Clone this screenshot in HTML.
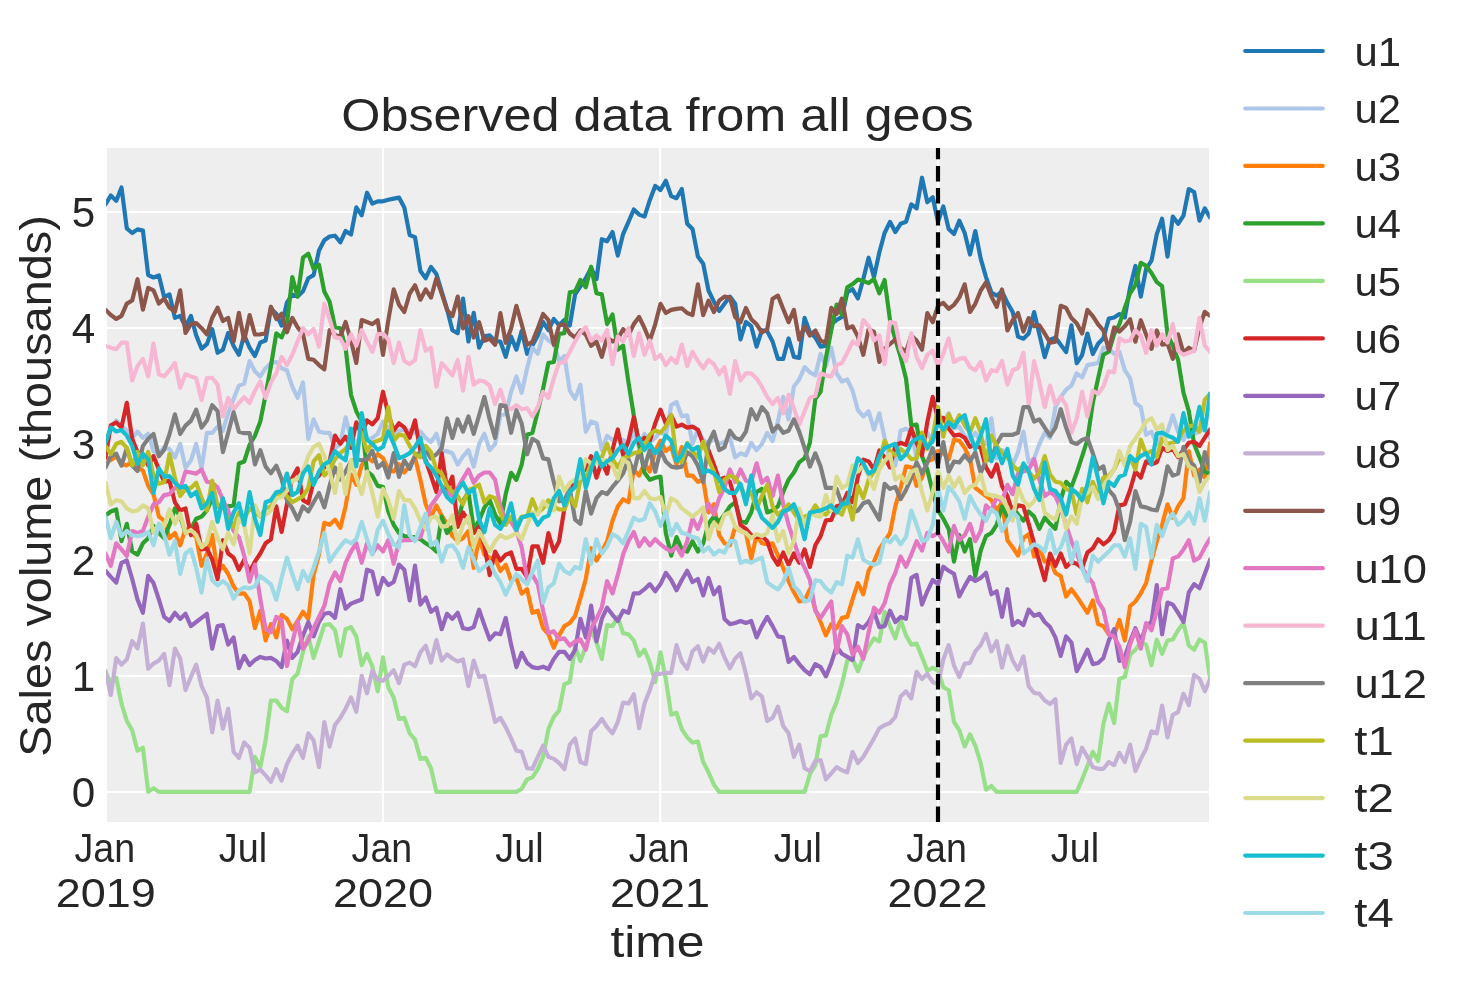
<!DOCTYPE html>
<html lang="en"><head><meta charset="utf-8"><title>Observed data from all geos</title>
<style>html,body{margin:0;padding:0;background:#fff;}body{width:1463px;height:985px;overflow:hidden;}svg{display:block;will-change:transform;}text{font-family:"Liberation Sans",sans-serif;fill:#262626;}.s{fill:none;stroke-width:4.17;stroke-linejoin:round;stroke-linecap:round;}.g{stroke:#fff;stroke-width:2.2;}</style></head><body>
<svg width="1463" height="985" viewBox="0 0 1463 985">
<rect x="0" y="0" width="1463" height="985" fill="#ffffff"/>
<rect x="107" y="148" width="1102" height="674" fill="#eeeeee"/>
<g class="g">
<line x1="107" x2="1209" y1="792.0" y2="792.0"/>
<line x1="107" x2="1209" y1="676.0" y2="676.0"/>
<line x1="107" x2="1209" y1="560.0" y2="560.0"/>
<line x1="107" x2="1209" y1="444.0" y2="444.0"/>
<line x1="107" x2="1209" y1="328.0" y2="328.0"/>
<line x1="107" x2="1209" y1="212.0" y2="212.0"/>
<line x1="383" x2="383" y1="148" y2="822"/>
<line x1="660.2" x2="660.2" y1="148" y2="822"/>
<line x1="938" x2="938" y1="148" y2="822"/>
</g>
<defs><clipPath id="c"><rect x="106.1" y="148" width="1103.6" height="674"/></clipPath></defs>
<g clip-path="url(#c)">
<polyline class="s" stroke="#1f77b4" points="105.5,204.3 110.8,195.5 116.2,200.9 121.5,187.5 126.8,228.5 132.2,233.0 137.5,229.4 142.9,230.6 148.2,275.1 153.5,277.5 158.9,275.5 164.2,297.2 169.5,294.4 174.9,317.9 180.2,315.9 185.5,326.8 190.9,315.9 196.2,335.4 201.6,348.7 206.9,344.2 212.2,329.2 217.6,352.8 222.9,349.7 228.2,332.9 233.6,346.0 238.9,354.8 244.2,335.0 249.6,347.7 254.9,356.1 260.3,342.5 265.6,340.5 270.9,308.7 276.3,313.8 281.6,325.7 286.9,302.6 292.3,294.6 297.6,296.4 303.0,291.3 308.3,278.2 313.6,275.1 319.0,250.5 324.3,240.2 329.6,236.5 335.0,235.7 340.3,242.3 345.6,231.0 351.0,234.5 356.3,207.4 361.7,215.2 367.0,192.7 372.3,203.7 377.7,201.3 383.0,201.3 388.3,199.8 393.7,198.6 399.0,197.6 404.3,207.4 409.7,235.1 415.0,237.1 420.4,271.0 425.7,278.2 431.0,266.9 436.4,274.1 441.7,291.5 447.0,308.9 452.4,330.2 457.7,333.3 463.0,298.5 468.4,341.5 473.7,312.8 479.1,347.7 484.4,336.4 489.7,335.4 495.1,341.1 500.4,341.5 505.7,356.9 511.1,336.4 516.4,349.7 521.7,330.9 527.1,353.8 532.4,345.6 537.8,335.4 543.1,322.0 548.4,330.2 553.8,319.0 559.1,325.1 564.4,320.0 569.8,325.5 575.1,294.4 580.4,286.4 585.8,278.2 591.1,267.9 596.5,279.2 601.8,239.2 607.1,241.3 612.5,232.0 617.8,255.6 623.1,234.1 628.5,221.8 633.8,209.5 639.1,214.6 644.5,216.6 649.8,200.2 655.2,185.9 660.5,190.0 665.8,180.8 671.2,196.1 676.5,198.2 681.8,189.0 687.2,223.8 692.5,228.9 697.9,256.6 703.2,263.8 708.5,290.5 713.9,301.7 719.2,311.0 724.5,303.8 729.9,296.6 735.2,303.8 740.5,339.5 745.9,322.0 751.2,326.1 756.6,346.6 761.9,330.2 767.2,331.3 772.6,341.5 777.9,358.9 783.2,358.9 788.6,338.4 793.9,356.9 799.2,357.9 804.6,317.9 809.9,332.3 815.3,337.4 820.6,346.6 825.9,345.6 831.3,324.1 836.6,320.0 841.9,316.9 847.3,292.3 852.6,289.2 857.9,298.5 863.3,279.0 868.6,257.7 874.0,277.1 879.3,252.5 884.6,233.0 890.0,221.8 895.3,232.0 900.6,223.8 906.0,221.8 911.3,204.3 916.6,208.4 922.0,177.7 927.3,202.3 932.7,197.2 938.0,221.8 943.3,206.4 948.7,228.9 954.0,234.1 959.3,220.7 964.7,233.0 970.0,254.6 975.3,231.0 980.7,258.7 986.0,277.1 991.4,292.5 996.7,295.6 1002.0,291.5 1007.4,302.8 1012.7,312.0 1018.0,336.6 1023.4,338.7 1028.7,333.5 1034.1,312.0 1039.4,334.6 1044.7,357.1 1050.1,339.7 1055.4,337.6 1060.7,344.8 1066.1,352.0 1071.4,325.3 1076.7,363.3 1082.1,355.1 1087.4,333.5 1092.8,354.0 1098.1,343.8 1103.4,338.2 1108.8,318.6 1114.1,317.5 1119.4,314.0 1124.8,317.5 1130.1,287.4 1135.4,265.9 1140.8,296.6 1146.1,268.9 1151.5,260.7 1156.8,234.1 1162.1,218.7 1167.5,256.6 1172.8,216.6 1178.1,223.8 1183.5,215.6 1188.8,189.0 1194.1,192.0 1199.5,220.7 1204.8,208.4 1210.2,217.7"/>
<polyline class="s" stroke="#aec7e8" points="105.5,442.0 110.8,427.6 116.2,420.5 121.5,425.6 126.8,430.7 132.2,437.9 137.5,431.7 142.9,437.9 148.2,433.8 153.5,451.2 158.9,454.3 164.2,447.1 169.5,449.2 174.9,457.4 180.2,444.0 185.5,467.6 190.9,460.5 196.2,444.0 201.6,468.7 206.9,432.8 212.2,432.8 217.6,426.6 222.9,430.7 228.2,413.3 233.6,398.9 238.9,385.6 244.2,383.6 249.6,361.0 254.9,371.3 260.3,376.4 265.6,368.2 270.9,363.0 276.3,362.0 281.6,368.2 286.9,370.2 292.3,386.6 297.6,397.9 303.0,382.5 308.3,438.9 313.6,419.4 319.0,431.7 324.3,432.8 329.6,432.8 335.0,448.1 340.3,444.0 345.6,417.4 351.0,437.9 356.3,442.0 361.7,435.8 367.0,439.9 372.3,437.9 377.7,433.8 383.0,421.5 388.3,428.7 393.7,435.8 399.0,430.7 404.3,429.7 409.7,430.7 415.0,432.8 420.4,431.7 425.7,437.9 431.0,442.0 436.4,433.8 441.7,451.2 447.0,451.2 452.4,453.3 457.7,464.6 463.0,456.3 468.4,450.2 473.7,466.6 479.1,444.0 484.4,433.8 489.7,450.2 495.1,444.0 500.4,415.3 505.7,414.3 511.1,391.8 516.4,376.4 521.7,392.8 527.1,368.2 532.4,347.7 537.8,353.8 543.1,334.3 548.4,340.5 553.8,343.6 559.1,361.0 564.4,355.9 569.8,390.7 575.1,398.9 580.4,384.6 585.8,431.7 591.1,421.5 596.5,423.5 601.8,450.2 607.1,435.8 612.5,439.9 617.8,437.9 623.1,439.9 628.5,444.0 633.8,432.2 639.1,447.3 644.5,433.8 649.8,442.0 655.2,437.9 660.5,431.7 665.8,435.8 671.2,405.1 676.5,402.0 681.8,416.4 687.2,415.3 692.5,444.0 697.9,429.7 703.2,439.9 708.5,444.0 713.9,437.9 719.2,444.0 724.5,442.0 729.9,437.9 735.2,457.4 740.5,453.3 745.9,455.3 751.2,443.0 756.6,450.2 761.9,444.0 767.2,432.8 772.6,441.0 777.9,421.5 783.2,396.9 788.6,419.4 793.9,386.6 799.2,379.5 804.6,367.1 809.9,372.3 815.3,375.4 820.6,353.8 825.9,366.1 831.3,347.7 836.6,373.3 841.9,381.5 847.3,379.5 852.6,390.7 857.9,410.2 863.3,416.4 868.6,411.2 874.0,429.7 879.3,413.3 884.6,437.9 890.0,460.5 895.3,465.6 900.6,430.7 906.0,428.7 911.3,431.7 916.6,458.4 922.0,435.8 927.3,432.8 932.7,442.0 938.0,421.5 943.3,421.5 948.7,413.3 954.0,427.6 959.3,426.6 964.7,435.8 970.0,439.9 975.3,432.8 980.7,442.0 986.0,444.0 991.4,418.4 996.7,458.4 1002.0,450.2 1007.4,452.2 1012.7,464.6 1018.0,452.2 1023.4,431.7 1028.7,462.5 1034.1,458.4 1039.4,444.0 1044.7,432.8 1050.1,437.9 1055.4,407.1 1060.7,396.9 1066.1,389.7 1071.4,385.6 1076.7,373.3 1082.1,377.4 1087.4,365.1 1092.8,364.1 1098.1,363.0 1103.4,347.7 1108.8,348.7 1114.1,353.8 1119.4,351.8 1124.8,370.2 1130.1,378.4 1135.4,403.0 1140.8,407.1 1146.1,434.8 1151.5,431.7 1156.8,444.0 1162.1,435.8 1167.5,431.7 1172.8,415.3 1178.1,431.7 1183.5,439.9 1188.8,429.7 1194.1,433.8 1199.5,431.7 1204.8,427.6 1210.2,437.9"/>
<polyline class="s" stroke="#ff7f0e" points="105.5,457.2 110.8,460.2 116.2,456.1 121.5,464.3 126.8,465.4 132.2,461.3 137.5,467.4 142.9,470.5 148.2,485.9 153.5,494.3 158.9,516.6 164.2,520.7 169.5,538.2 174.9,533.0 180.2,545.3 185.5,528.9 190.9,533.0 196.2,537.1 201.6,565.8 206.9,553.5 212.2,535.1 217.6,572.0 222.9,565.8 228.2,574.0 233.6,586.3 238.9,593.7 244.2,593.3 249.6,601.1 254.9,628.2 260.3,610.7 265.6,640.5 270.9,624.1 276.3,637.4 281.6,614.8 286.9,618.9 292.3,629.2 297.6,621.0 303.0,611.8 308.3,618.9 313.6,574.9 319.0,554.4 324.3,522.8 329.6,524.8 335.0,519.7 340.3,527.9 345.6,506.4 351.0,474.6 356.3,484.8 361.7,465.4 367.0,457.2 372.3,461.3 377.7,454.1 383.0,458.2 388.3,469.5 393.7,471.5 399.0,464.3 404.3,472.5 409.7,465.4 415.0,457.2 420.4,479.7 425.7,504.3 431.0,516.6 436.4,505.4 441.7,515.6 447.0,523.8 452.4,536.1 457.7,541.2 463.0,538.2 468.4,531.0 473.7,567.9 479.1,537.1 484.4,554.6 489.7,557.6 495.1,558.7 500.4,571.0 505.7,564.8 511.1,580.2 516.4,578.1 521.7,593.7 527.1,589.2 532.4,612.8 537.8,610.7 543.1,628.2 548.4,634.3 553.8,647.7 559.1,635.4 564.4,626.1 569.8,623.0 575.1,615.9 580.4,598.4 585.8,579.0 591.1,548.2 596.5,560.7 601.8,551.5 607.1,541.2 612.5,520.7 617.8,506.4 623.1,499.2 628.5,502.3 633.8,469.5 639.1,475.6 644.5,463.3 649.8,471.5 655.2,451.0 660.5,440.8 665.8,451.0 671.2,446.9 676.5,464.3 681.8,446.9 687.2,475.6 692.5,475.6 697.9,481.8 703.2,479.7 708.5,512.5 713.9,504.3 719.2,535.1 724.5,543.3 729.9,545.3 735.2,526.9 740.5,531.0 745.9,533.0 751.2,558.7 756.6,535.1 761.9,543.3 767.2,544.3 772.6,543.3 777.9,555.6 783.2,567.9 788.6,581.0 793.9,592.3 799.2,601.5 804.6,600.5 809.9,589.2 815.3,609.7 820.6,622.0 825.9,635.4 831.3,624.1 836.6,628.2 841.9,617.9 847.3,616.9 852.6,599.1 857.9,583.1 863.3,594.3 868.6,570.8 874.0,561.5 879.3,549.2 884.6,541.2 890.0,533.0 895.3,506.4 900.6,487.9 906.0,466.4 911.3,467.4 916.6,485.9 922.0,477.7 927.3,461.3 932.7,459.2 938.0,451.0 943.3,453.1 948.7,459.2 954.0,439.7 959.3,440.8 964.7,447.9 970.0,459.2 975.3,487.9 980.7,492.0 986.0,496.1 991.4,500.2 996.7,510.5 1002.0,502.3 1007.4,540.2 1012.7,547.4 1018.0,555.6 1023.4,538.2 1028.7,534.1 1034.1,556.6 1039.4,547.4 1044.7,561.7 1050.1,559.7 1055.4,573.0 1060.7,576.1 1066.1,596.6 1071.4,589.2 1076.7,596.4 1082.1,604.6 1087.4,612.8 1092.8,600.5 1098.1,624.1 1103.4,626.1 1108.8,634.3 1114.1,635.4 1119.4,620.0 1124.8,640.5 1130.1,606.0 1135.4,601.5 1140.8,593.3 1146.1,583.1 1151.5,560.5 1156.8,541.2 1162.1,524.8 1167.5,504.3 1172.8,517.7 1178.1,506.4 1183.5,498.2 1188.8,451.0 1194.1,475.6 1199.5,469.5 1204.8,477.7 1210.2,442.8"/>
<polyline class="s" stroke="#2ca02c" points="105.5,515.6 110.8,511.5 116.2,509.5 121.5,541.2 126.8,523.8 132.2,551.5 137.5,554.6 142.9,543.3 148.2,538.2 153.5,525.9 158.9,533.0 164.2,538.2 169.5,524.8 174.9,508.4 180.2,516.6 185.5,533.0 190.9,528.9 196.2,518.7 201.6,516.6 206.9,510.5 212.2,498.2 217.6,506.4 222.9,507.4 228.2,506.4 233.6,505.4 238.9,463.5 244.2,461.5 249.6,444.7 254.9,435.8 260.3,421.5 265.6,394.8 270.9,366.1 276.3,333.3 281.6,337.4 286.9,324.1 292.3,277.1 297.6,296.6 303.0,257.7 308.3,253.6 313.6,268.9 319.0,264.8 324.3,291.5 329.6,301.7 335.0,327.2 340.3,328.2 345.6,347.7 351.0,394.8 356.3,411.2 361.7,421.5 367.0,471.5 372.3,475.6 377.7,485.9 383.0,486.9 388.3,511.5 393.7,524.8 399.0,533.0 404.3,536.1 409.7,537.1 415.0,537.1 420.4,539.2 425.7,543.3 431.0,546.4 436.4,551.5 441.7,516.6 447.0,533.0 452.4,526.9 457.7,521.8 463.0,501.3 468.4,492.0 473.7,528.9 479.1,520.7 484.4,507.4 489.7,500.2 495.1,514.6 500.4,523.8 505.7,494.1 511.1,472.8 516.4,479.9 521.7,464.6 527.1,434.8 532.4,432.8 537.8,411.2 543.1,388.7 548.4,363.0 553.8,362.0 559.1,333.9 564.4,333.3 569.8,292.3 575.1,291.3 580.4,280.0 585.8,287.2 591.1,266.7 596.5,293.3 601.8,294.4 607.1,324.1 612.5,314.4 617.8,349.7 623.1,345.6 628.5,382.5 633.8,415.3 639.1,444.0 644.5,472.8 649.8,479.7 655.2,477.7 660.5,476.6 665.8,533.0 671.2,555.6 676.5,537.1 681.8,549.4 687.2,551.5 692.5,541.2 697.9,551.5 703.2,543.3 708.5,523.8 713.9,516.6 719.2,521.8 724.5,514.6 729.9,506.4 735.2,502.3 740.5,520.7 745.9,522.8 751.2,512.5 756.6,492.0 761.9,488.9 767.2,512.5 772.6,510.5 777.9,506.4 783.2,492.0 788.6,479.7 793.9,472.5 799.2,462.3 804.6,458.2 809.9,442.8 815.3,398.9 820.6,391.8 825.9,357.9 831.3,330.2 836.6,304.6 841.9,314.9 847.3,287.2 852.6,284.1 857.9,279.6 863.3,281.0 868.6,283.1 874.0,279.0 879.3,293.3 884.6,280.0 890.0,320.0 895.3,339.5 900.6,356.9 906.0,378.4 911.3,425.6 916.6,424.6 922.0,456.3 927.3,469.5 932.7,492.0 938.0,510.5 943.3,518.7 948.7,528.9 954.0,561.7 959.3,535.1 964.7,551.5 970.0,539.2 975.3,576.1 980.7,550.5 986.0,536.1 991.4,533.0 996.7,524.8 1002.0,506.4 1007.4,516.6 1012.7,507.4 1018.0,514.6 1023.4,520.7 1028.7,511.5 1034.1,516.6 1039.4,528.9 1044.7,517.7 1050.1,523.8 1055.4,528.9 1060.7,500.2 1066.1,481.8 1071.4,487.1 1076.7,472.8 1082.1,456.3 1087.4,439.9 1092.8,403.0 1098.1,378.4 1103.4,354.8 1108.8,351.8 1114.1,334.3 1119.4,324.1 1124.8,307.7 1130.1,293.3 1135.4,285.1 1140.8,262.8 1146.1,265.9 1151.5,273.0 1156.8,282.1 1162.1,286.2 1167.5,334.3 1172.8,345.6 1178.1,360.0 1183.5,392.8 1188.8,411.2 1194.1,444.0 1199.5,457.4 1204.8,471.7 1210.2,473.8"/>
<polyline class="s" stroke="#98df8a" points="105.5,672.0 110.8,683.1 116.2,677.7 121.5,703.6 126.8,721.0 132.2,730.2 137.5,750.7 142.9,747.7 148.2,791.7 153.5,788.1 158.9,791.9 164.2,791.9 169.5,791.9 174.9,791.9 180.2,791.9 185.5,791.9 190.9,791.9 196.2,791.9 201.6,791.9 206.9,791.9 212.2,791.9 217.6,791.9 222.9,791.9 228.2,791.9 233.6,791.9 238.9,791.9 244.2,791.9 249.6,791.9 254.9,756.9 260.3,767.1 265.6,740.5 270.9,700.5 276.3,700.5 281.6,707.7 286.9,711.4 292.3,679.0 297.6,673.8 303.0,651.8 308.3,636.4 313.6,657.9 319.0,641.5 324.3,625.1 329.6,624.1 335.0,630.2 340.3,655.9 345.6,629.2 351.0,627.1 356.3,636.4 361.7,665.1 367.0,653.8 372.3,666.1 377.7,691.3 383.0,657.4 388.3,687.2 393.7,697.4 399.0,718.9 404.3,717.9 409.7,733.3 415.0,739.5 420.4,758.9 425.7,757.9 431.0,768.2 436.4,791.9 441.7,791.9 447.0,791.9 452.4,791.9 457.7,791.9 463.0,791.9 468.4,791.9 473.7,791.9 479.1,791.9 484.4,791.9 489.7,791.9 495.1,791.9 500.4,791.9 505.7,791.9 511.1,791.9 516.4,791.9 521.7,788.7 527.1,779.4 532.4,777.4 537.8,769.2 543.1,756.9 548.4,729.2 553.8,716.9 559.1,710.7 564.4,684.1 569.8,682.0 575.1,646.6 580.4,661.0 585.8,646.6 591.1,630.2 596.5,642.5 601.8,658.9 607.1,625.1 612.5,626.1 617.8,616.9 623.1,633.3 628.5,634.3 633.8,640.5 639.1,655.9 644.5,649.7 649.8,662.6 655.2,682.0 660.5,652.3 665.8,679.0 671.2,714.8 676.5,712.8 681.8,729.2 687.2,737.4 692.5,742.5 697.9,741.5 703.2,762.0 708.5,772.3 713.9,784.6 719.2,791.9 724.5,791.9 729.9,791.9 735.2,791.9 740.5,791.9 745.9,791.9 751.2,791.9 756.6,791.9 761.9,791.9 767.2,791.9 772.6,791.9 777.9,791.9 783.2,791.9 788.6,791.9 793.9,791.9 799.2,791.9 804.6,791.9 809.9,774.3 815.3,765.1 820.6,736.4 825.9,735.4 831.3,714.8 836.6,702.1 841.9,684.1 847.3,660.5 852.6,658.9 857.9,671.2 863.3,656.9 868.6,646.6 874.0,638.4 879.3,641.5 884.6,611.8 890.0,626.1 895.3,638.4 900.6,620.0 906.0,635.4 911.3,644.6 916.6,643.6 922.0,656.9 927.3,670.8 932.7,667.7 938.0,670.8 943.3,687.2 948.7,690.2 954.0,722.0 959.3,730.2 964.7,746.6 970.0,734.3 975.3,745.6 980.7,763.0 986.0,789.7 991.4,786.0 996.7,791.9 1002.0,791.9 1007.4,791.9 1012.7,791.9 1018.0,791.9 1023.4,791.9 1028.7,791.9 1034.1,791.9 1039.4,791.9 1044.7,791.9 1050.1,791.9 1055.4,791.9 1060.7,791.9 1066.1,791.9 1071.4,791.9 1076.7,791.9 1082.1,779.4 1087.4,766.1 1092.8,751.8 1098.1,761.0 1103.4,723.7 1108.8,703.6 1114.1,723.0 1119.4,679.0 1124.8,676.9 1130.1,654.8 1135.4,649.7 1140.8,642.5 1146.1,644.6 1151.5,665.1 1156.8,639.5 1162.1,653.8 1167.5,640.5 1172.8,639.5 1178.1,630.2 1183.5,623.0 1188.8,645.6 1194.1,649.7 1199.5,639.5 1204.8,642.5 1210.2,679.4"/>
<polyline class="s" stroke="#d62728" points="105.5,457.2 110.8,425.4 116.2,422.5 121.5,427.4 126.8,402.8 132.2,438.7 137.5,452.0 142.9,454.1 148.2,465.4 153.5,456.1 158.9,469.5 164.2,481.8 169.5,480.7 174.9,502.3 180.2,510.5 185.5,508.4 190.9,535.1 196.2,523.8 201.6,549.4 206.9,548.4 212.2,559.7 217.6,579.2 222.9,540.2 228.2,553.5 233.6,557.6 238.9,569.9 244.2,559.7 249.6,572.0 254.9,561.7 260.3,553.5 265.6,543.3 270.9,539.4 276.3,506.4 281.6,532.0 286.9,504.3 292.3,477.7 297.6,468.4 303.0,500.2 308.3,503.3 313.6,480.7 319.0,475.6 324.3,467.4 329.6,461.3 335.0,435.6 340.3,443.8 345.6,436.7 351.0,447.9 356.3,422.3 361.7,434.6 367.0,420.3 372.3,424.4 377.7,418.2 383.0,391.7 388.3,414.1 393.7,430.5 399.0,423.3 404.3,427.4 409.7,437.7 415.0,420.3 420.4,451.0 425.7,460.2 431.0,475.6 436.4,492.0 441.7,453.1 447.0,488.9 452.4,476.6 457.7,526.9 463.0,512.5 468.4,520.7 473.7,533.0 479.1,526.9 484.4,545.3 489.7,575.1 495.1,551.5 500.4,560.7 505.7,554.6 511.1,552.5 516.4,568.9 521.7,568.9 527.1,577.1 532.4,546.4 537.8,546.4 543.1,562.8 548.4,533.0 553.8,551.5 559.1,541.2 564.4,508.4 569.8,492.0 575.1,481.8 580.4,471.5 585.8,469.5 591.1,456.1 596.5,477.7 601.8,461.3 607.1,473.6 612.5,450.0 617.8,429.5 623.1,455.1 628.5,440.8 633.8,417.2 639.1,442.8 644.5,437.7 649.8,440.8 655.2,423.3 660.5,409.6 665.8,423.5 671.2,415.3 676.5,426.6 681.8,424.6 687.2,427.6 692.5,426.6 697.9,429.7 703.2,444.0 708.5,450.2 713.9,464.6 719.2,479.7 724.5,477.7 729.9,481.8 735.2,500.2 740.5,524.8 745.9,528.9 751.2,535.1 756.6,537.1 761.9,536.1 767.2,541.2 772.6,556.6 777.9,564.8 783.2,552.5 788.6,564.8 793.9,553.5 799.2,562.8 804.6,549.4 809.9,566.9 815.3,545.3 820.6,536.1 825.9,520.4 831.3,519.9 836.6,506.2 841.9,504.8 847.3,493.0 852.6,502.1 857.9,477.0 863.3,459.6 868.6,461.4 874.0,469.7 879.3,450.5 884.6,457.2 890.0,467.4 895.3,445.9 900.6,442.8 906.0,444.9 911.3,428.5 916.6,442.8 922.0,455.1 927.3,422.3 932.7,396.9 938.0,419.4 943.3,417.8 948.7,428.5 954.0,435.6 959.3,434.6 964.7,437.7 970.0,446.9 975.3,444.9 980.7,447.9 986.0,467.4 991.4,476.6 996.7,464.3 1002.0,485.9 1007.4,496.1 1012.7,512.5 1018.0,505.4 1023.4,506.4 1028.7,523.8 1034.1,543.3 1039.4,561.7 1044.7,580.2 1050.1,553.5 1055.4,565.8 1060.7,553.5 1066.1,566.9 1071.4,561.7 1076.7,563.8 1082.1,567.9 1087.4,552.5 1092.8,548.4 1098.1,539.2 1103.4,544.3 1108.8,540.2 1114.1,532.0 1119.4,505.4 1124.8,504.3 1130.1,490.0 1135.4,471.5 1140.8,477.7 1146.1,461.3 1151.5,464.3 1156.8,462.3 1162.1,447.9 1167.5,451.0 1172.8,449.0 1178.1,457.2 1183.5,450.0 1188.8,442.8 1194.1,441.8 1199.5,445.9 1204.8,437.7 1210.2,429.5"/>
<polyline class="s" stroke="#9467bd" points="105.5,570.8 110.8,576.9 116.2,582.7 121.5,562.8 126.8,560.5 132.2,579.0 137.5,599.5 142.9,612.8 148.2,575.9 153.5,583.1 158.9,599.5 164.2,616.9 169.5,621.0 174.9,612.8 180.2,618.9 185.5,613.8 190.9,626.1 196.2,622.0 201.6,617.9 206.9,613.8 212.2,648.7 217.6,626.1 222.9,625.1 228.2,644.6 233.6,637.4 238.9,668.2 244.2,655.9 249.6,665.1 254.9,660.0 260.3,656.9 265.6,658.5 270.9,657.9 276.3,661.0 281.6,667.1 286.9,640.5 292.3,657.9 297.6,651.8 303.0,635.4 308.3,622.0 313.6,636.4 319.0,622.0 324.3,613.8 329.6,612.8 335.0,617.9 340.3,589.2 345.6,608.7 351.0,603.6 356.3,601.5 361.7,599.5 367.0,569.7 372.3,571.8 377.7,594.3 383.0,577.9 388.3,585.1 393.7,582.0 399.0,564.6 404.3,569.7 409.7,600.5 415.0,565.6 420.4,604.6 425.7,597.4 431.0,611.8 436.4,607.7 441.7,629.2 447.0,613.8 452.4,618.9 457.7,612.8 463.0,628.2 468.4,629.2 473.7,627.1 479.1,609.7 484.4,625.1 489.7,639.5 495.1,633.3 500.4,634.3 505.7,617.9 511.1,644.6 516.4,667.1 521.7,652.8 527.1,663.0 532.4,667.1 537.8,668.2 543.1,666.7 548.4,669.2 553.8,658.9 559.1,651.8 564.4,651.8 569.8,658.9 575.1,649.7 580.4,618.9 585.8,637.4 591.1,605.6 596.5,641.5 601.8,618.9 607.1,607.7 612.5,614.8 617.8,621.0 623.1,610.7 628.5,612.8 633.8,593.3 639.1,593.3 644.5,589.2 649.8,584.1 655.2,591.3 660.5,584.1 665.8,572.8 671.2,580.0 676.5,590.2 681.8,580.0 687.2,570.8 692.5,582.0 697.9,579.0 703.2,595.4 708.5,577.9 713.9,594.3 719.2,587.2 724.5,618.9 729.9,624.1 735.2,623.0 740.5,621.0 745.9,623.0 751.2,621.0 756.6,637.4 761.9,626.1 767.2,616.9 772.6,626.1 777.9,636.4 783.2,637.4 788.6,662.0 793.9,656.9 799.2,664.1 804.6,670.2 809.9,674.3 815.3,664.1 820.6,667.1 825.9,676.4 831.3,663.0 836.6,646.6 841.9,653.8 847.3,656.9 852.6,660.0 857.9,625.1 863.3,628.2 868.6,622.0 874.0,611.8 879.3,627.1 884.6,626.1 890.0,610.7 895.3,622.0 900.6,616.9 906.0,618.9 911.3,577.9 916.6,574.9 922.0,604.6 927.3,591.3 932.7,580.0 938.0,584.1 943.3,566.7 948.7,570.8 954.0,573.8 959.3,596.4 964.7,586.1 970.0,576.9 975.3,581.0 980.7,577.9 986.0,572.8 991.4,594.3 996.7,591.3 1002.0,616.9 1007.4,589.2 1012.7,625.1 1018.0,621.0 1023.4,625.1 1028.7,609.7 1034.1,615.9 1039.4,613.8 1044.7,622.0 1050.1,627.1 1055.4,637.4 1060.7,655.9 1066.1,636.4 1071.4,642.5 1076.7,671.2 1082.1,661.0 1087.4,649.7 1092.8,664.1 1098.1,663.0 1103.4,657.9 1108.8,640.5 1114.1,629.2 1119.4,661.0 1124.8,656.9 1130.1,641.5 1135.4,628.2 1140.8,641.5 1146.1,626.1 1151.5,622.0 1156.8,585.1 1162.1,634.3 1167.5,602.5 1172.8,604.6 1178.1,612.8 1183.5,622.0 1188.8,592.3 1194.1,584.1 1199.5,588.2 1204.8,573.8 1210.2,559.5"/>
<polyline class="s" stroke="#c5b0d5" points="105.5,670.8 110.8,695.0 116.2,658.0 121.5,664.6 126.8,659.5 132.2,641.0 137.5,648.2 142.9,623.6 148.2,668.7 153.5,663.6 158.9,660.5 164.2,653.9 169.5,685.1 174.9,648.6 180.2,658.5 185.5,690.2 190.9,676.9 196.2,664.6 201.6,686.1 206.9,697.4 212.2,732.3 217.6,700.5 222.9,728.6 228.2,708.7 233.6,751.8 238.9,757.9 244.2,742.5 249.6,747.7 254.9,772.3 260.3,769.6 265.6,775.3 270.9,781.9 276.3,769.2 281.6,780.5 286.9,764.1 292.3,753.8 297.6,745.6 303.0,757.9 308.3,733.3 313.6,740.5 319.0,767.1 324.3,722.0 329.6,746.6 335.0,725.1 340.3,717.9 345.6,708.7 351.0,697.4 356.3,711.8 361.7,675.9 367.0,693.3 372.3,670.8 377.7,680.0 383.0,680.6 388.3,675.9 393.7,670.3 399.0,683.1 404.3,664.6 409.7,662.6 415.0,666.2 420.4,652.3 425.7,645.7 431.0,662.6 436.4,640.0 441.7,660.5 447.0,654.4 452.4,658.5 457.7,661.5 463.0,659.5 468.4,686.1 473.7,660.5 479.1,676.9 484.4,675.9 489.7,698.4 495.1,722.0 500.4,717.9 505.7,727.1 511.1,738.4 516.4,750.7 521.7,751.8 527.1,768.2 532.4,768.8 537.8,756.9 543.1,745.6 548.4,756.9 553.8,758.9 559.1,763.0 564.4,769.2 569.8,744.6 575.1,738.4 580.4,762.0 585.8,764.1 591.1,731.3 596.5,726.1 601.8,718.9 607.1,727.1 612.5,733.3 617.8,722.0 623.1,702.5 628.5,703.6 633.8,694.3 639.1,728.2 644.5,703.6 649.8,690.2 655.2,673.8 660.5,673.8 665.8,672.8 671.2,672.8 676.5,645.1 681.8,661.5 687.2,668.7 692.5,651.3 697.9,646.2 703.2,661.5 708.5,648.2 713.9,652.7 719.2,643.7 724.5,657.4 729.9,668.3 735.2,658.5 740.5,653.3 745.9,673.8 751.2,698.4 756.6,692.3 761.9,696.4 767.2,721.0 772.6,717.9 777.9,706.6 783.2,726.1 788.6,733.3 793.9,756.9 799.2,744.6 804.6,768.2 809.9,771.2 815.3,761.0 820.6,760.0 825.9,779.4 831.3,773.3 836.6,767.1 841.9,770.2 847.3,772.3 852.6,751.8 857.9,763.0 863.3,756.9 868.6,747.7 874.0,738.4 879.3,728.2 884.6,725.1 890.0,723.0 895.3,716.9 900.6,696.4 906.0,691.3 911.3,698.4 916.6,671.8 922.0,679.0 927.3,673.8 932.7,682.0 938.0,684.1 943.3,659.5 948.7,645.1 954.0,665.6 959.3,676.9 964.7,663.6 970.0,663.0 975.3,651.3 980.7,645.1 986.0,633.8 991.4,651.3 996.7,641.0 1002.0,667.7 1007.4,645.7 1012.7,660.5 1018.0,669.7 1023.4,656.4 1028.7,686.1 1034.1,692.9 1039.4,693.7 1044.7,700.5 1050.1,704.0 1055.4,699.1 1060.7,763.0 1066.1,744.6 1071.4,738.4 1076.7,764.1 1082.1,747.7 1087.4,756.9 1092.8,767.1 1098.1,768.8 1103.4,768.8 1108.8,762.0 1114.1,765.1 1119.4,752.8 1124.8,762.0 1130.1,744.6 1135.4,771.2 1140.8,758.9 1146.1,748.7 1151.5,731.3 1156.8,733.3 1162.1,705.6 1167.5,737.4 1172.8,714.8 1178.1,712.2 1183.5,693.7 1188.8,705.2 1194.1,674.9 1199.5,678.6 1204.8,691.3 1210.2,679.0"/>
<polyline class="s" stroke="#8c564b" points="105.5,309.7 110.8,314.9 116.2,319.0 121.5,315.9 126.8,303.6 132.2,300.5 137.5,279.2 142.9,309.7 148.2,287.8 153.5,290.3 158.9,303.6 164.2,298.5 169.5,307.7 174.9,311.8 180.2,290.3 185.5,332.9 190.9,324.1 196.2,323.1 201.6,328.2 206.9,334.3 212.2,317.9 217.6,307.7 222.9,321.0 228.2,317.9 233.6,341.5 238.9,312.8 244.2,340.5 249.6,315.1 254.9,334.5 260.3,334.3 265.6,333.5 270.9,306.7 276.3,319.0 281.6,313.8 286.9,332.3 292.3,317.9 297.6,327.2 303.0,334.3 308.3,358.9 313.6,359.8 319.0,365.1 324.3,369.4 329.6,330.2 335.0,335.0 340.3,336.4 345.6,322.0 351.0,340.5 356.3,363.0 361.7,320.0 367.0,322.0 372.3,324.1 377.7,320.2 383.0,354.9 388.3,320.2 393.7,289.4 399.0,304.8 404.3,312.0 409.7,293.5 415.0,285.3 420.4,299.7 425.7,289.4 431.0,297.6 436.4,278.2 441.7,293.5 447.0,309.9 452.4,316.1 457.7,296.6 463.0,328.4 468.4,316.1 473.7,337.6 479.1,322.2 484.4,340.7 489.7,338.7 495.1,344.8 500.4,313.0 505.7,342.8 511.1,328.4 516.4,305.8 521.7,324.3 527.1,344.8 532.4,341.7 537.8,328.4 543.1,314.0 548.4,320.2 553.8,344.8 559.1,325.3 564.4,324.3 569.8,333.5 575.1,337.6 580.4,330.5 585.8,334.6 591.1,345.8 596.5,341.7 601.8,356.9 607.1,337.4 612.5,341.5 617.8,339.1 623.1,329.2 628.5,335.0 633.8,324.1 639.1,316.9 644.5,328.2 649.8,340.7 655.2,324.3 660.5,303.8 665.8,313.0 671.2,309.9 676.5,308.9 681.8,308.3 687.2,313.0 692.5,315.1 697.9,284.3 703.2,315.1 708.5,300.7 713.9,312.0 719.2,300.7 724.5,296.6 729.9,297.6 735.2,317.1 740.5,322.2 745.9,307.9 751.2,319.2 756.6,324.3 761.9,332.5 767.2,329.4 772.6,298.7 777.9,295.6 783.2,308.9 788.6,322.2 793.9,309.9 799.2,339.7 804.6,326.3 809.9,335.6 815.3,330.5 820.6,340.7 825.9,342.8 831.3,307.9 836.6,314.0 841.9,298.7 847.3,328.4 852.6,326.3 857.9,336.6 863.3,354.8 868.6,329.2 874.0,331.9 879.3,362.0 884.6,348.7 890.0,344.0 895.3,339.5 900.6,347.7 906.0,351.8 911.3,335.4 916.6,340.5 922.0,349.7 927.3,313.0 932.7,322.2 938.0,305.8 943.3,302.8 948.7,308.9 954.0,304.8 959.3,297.6 964.7,284.3 970.0,312.0 975.3,303.8 980.7,290.5 986.0,282.3 991.4,296.6 996.7,306.9 1002.0,289.4 1007.4,330.5 1012.7,320.2 1018.0,313.0 1023.4,331.5 1028.7,318.1 1034.1,326.3 1039.4,325.3 1044.7,333.5 1050.1,342.8 1055.4,341.7 1060.7,305.8 1066.1,307.9 1071.4,318.1 1076.7,323.3 1082.1,333.5 1087.4,309.9 1092.8,316.1 1098.1,324.3 1103.4,330.5 1108.8,349.9 1114.1,327.4 1119.4,331.5 1124.8,326.3 1130.1,319.2 1135.4,341.7 1140.8,320.2 1146.1,334.6 1151.5,348.9 1156.8,330.5 1162.1,344.6 1167.5,343.6 1172.8,358.9 1178.1,334.3 1183.5,352.8 1188.8,347.7 1194.1,350.7 1199.5,327.2 1204.8,311.8 1210.2,315.9"/>
<polyline class="s" stroke="#e377c2" points="105.5,553.5 110.8,565.8 116.2,543.3 121.5,549.4 126.8,555.8 132.2,531.0 137.5,533.0 142.9,531.0 148.2,516.6 153.5,504.3 158.9,502.3 164.2,495.1 169.5,494.1 174.9,487.9 180.2,488.9 185.5,471.5 190.9,472.5 196.2,473.6 201.6,469.5 206.9,481.8 212.2,482.8 217.6,487.3 222.9,500.2 228.2,510.5 233.6,531.0 238.9,537.1 244.2,555.6 249.6,581.6 254.9,564.6 260.3,599.1 265.6,629.2 270.9,632.3 276.3,616.9 281.6,620.0 286.9,666.1 292.3,642.5 297.6,621.0 303.0,648.7 308.3,640.5 313.6,628.2 319.0,616.9 324.3,606.0 329.6,583.7 335.0,572.4 340.3,581.2 345.6,562.8 351.0,551.5 356.3,543.3 361.7,562.8 367.0,543.3 372.3,553.5 377.7,545.3 383.0,551.5 388.3,540.2 393.7,563.8 399.0,541.2 404.3,540.2 409.7,540.2 415.0,539.2 420.4,537.1 425.7,520.7 431.0,505.4 436.4,498.2 441.7,490.0 447.0,492.0 452.4,496.1 457.7,487.9 463.0,478.7 468.4,469.5 473.7,482.8 479.1,475.6 484.4,472.5 489.7,472.5 495.1,479.7 500.4,506.4 505.7,520.7 511.1,521.8 516.4,531.0 521.7,547.4 527.1,579.0 532.4,574.9 537.8,584.1 543.1,610.7 548.4,633.3 553.8,631.3 559.1,639.5 564.4,638.4 569.8,645.6 575.1,641.5 580.4,639.5 585.8,649.7 591.1,628.2 596.5,618.9 601.8,607.3 607.1,581.0 612.5,593.3 617.8,574.9 623.1,554.4 628.5,541.2 633.8,532.0 639.1,546.4 644.5,538.2 649.8,545.3 655.2,539.2 660.5,544.3 665.8,548.4 671.2,551.5 676.5,546.4 681.8,555.6 687.2,541.2 692.5,518.7 697.9,528.9 703.2,514.6 708.5,503.3 713.9,514.6 719.2,498.2 724.5,487.9 729.9,469.5 735.2,481.8 740.5,469.5 745.9,480.7 751.2,481.8 756.6,463.3 761.9,482.8 767.2,477.7 772.6,496.1 777.9,475.6 783.2,504.3 788.6,524.8 793.9,541.2 799.2,557.4 804.6,567.7 809.9,580.0 815.3,610.7 820.6,617.9 825.9,609.7 831.3,601.5 836.6,652.8 841.9,626.1 847.3,634.3 852.6,654.8 857.9,646.6 863.3,658.9 868.6,632.3 874.0,607.7 879.3,612.8 884.6,603.2 890.0,584.1 895.3,572.8 900.6,556.4 906.0,566.7 911.3,554.6 916.6,541.2 922.0,550.5 927.3,533.0 932.7,536.1 938.0,533.0 943.3,541.2 948.7,551.5 954.0,525.9 959.3,540.2 964.7,535.1 970.0,523.8 975.3,541.2 980.7,531.0 986.0,505.4 991.4,510.5 996.7,497.1 1002.0,501.3 1007.4,484.8 1012.7,494.1 1018.0,473.6 1023.4,471.5 1028.7,469.5 1034.1,459.2 1039.4,479.7 1044.7,496.1 1050.1,492.0 1055.4,496.1 1060.7,508.4 1066.1,524.8 1071.4,541.2 1076.7,553.5 1082.1,567.9 1087.4,575.9 1092.8,583.1 1098.1,601.5 1103.4,609.7 1108.8,634.3 1114.1,636.4 1119.4,646.6 1124.8,667.1 1130.1,644.6 1135.4,630.2 1140.8,648.7 1146.1,623.0 1151.5,630.2 1156.8,610.7 1162.1,589.2 1167.5,588.2 1172.8,558.5 1178.1,556.4 1183.5,549.4 1188.8,540.2 1194.1,560.7 1199.5,557.6 1204.8,547.4 1210.2,538.2"/>
<polyline class="s" stroke="#f7b6d2" points="105.5,346.0 110.8,347.7 116.2,349.3 121.5,342.7 126.8,342.5 132.2,380.5 137.5,366.1 142.9,358.9 148.2,376.4 153.5,343.6 158.9,374.3 164.2,376.4 169.5,370.2 174.9,363.0 180.2,387.7 185.5,374.3 190.9,376.4 196.2,378.2 201.6,400.0 206.9,378.0 212.2,377.8 217.6,384.6 222.9,416.4 228.2,397.9 233.6,409.4 238.9,403.0 244.2,397.1 249.6,403.0 254.9,390.7 260.3,381.5 265.6,397.9 270.9,382.5 276.3,373.3 281.6,356.9 286.9,365.1 292.3,354.8 297.6,341.5 303.0,328.2 308.3,334.3 313.6,329.0 319.0,346.6 324.3,303.6 329.6,319.0 335.0,337.4 340.3,338.4 345.6,348.7 351.0,334.3 356.3,345.6 361.7,330.2 367.0,341.5 372.3,351.8 377.7,334.3 383.0,333.7 388.3,339.5 393.7,363.0 399.0,342.5 404.3,361.0 409.7,364.1 415.0,360.0 420.4,330.2 425.7,350.7 431.0,347.7 436.4,386.6 441.7,363.0 447.0,369.2 452.4,375.4 457.7,360.0 463.0,390.7 468.4,356.9 473.7,384.6 479.1,380.5 484.4,381.5 489.7,385.6 495.1,404.1 500.4,389.7 505.7,407.1 511.1,409.2 516.4,405.1 521.7,409.2 527.1,408.2 532.4,416.4 537.8,407.1 543.1,391.8 548.4,397.9 553.8,378.4 559.1,363.0 564.4,362.0 569.8,351.8 575.1,341.5 580.4,332.3 585.8,327.2 591.1,340.5 596.5,335.4 601.8,340.5 607.1,330.2 612.5,364.1 617.8,336.4 623.1,341.5 628.5,328.2 633.8,355.9 639.1,333.3 644.5,354.8 649.8,340.5 655.2,358.9 660.5,354.8 665.8,365.1 671.2,357.9 676.5,363.0 681.8,344.6 687.2,366.1 692.5,351.8 697.9,361.0 703.2,368.2 708.5,360.0 713.9,364.1 719.2,374.3 724.5,367.1 729.9,393.8 735.2,361.0 740.5,380.5 745.9,373.3 751.2,373.3 756.6,378.4 761.9,386.6 767.2,396.9 772.6,404.1 777.9,397.9 783.2,413.3 788.6,394.8 793.9,408.2 799.2,424.6 804.6,411.2 809.9,397.9 815.3,395.9 820.6,373.3 825.9,375.4 831.3,376.4 836.6,365.1 841.9,363.0 847.3,352.8 852.6,341.5 857.9,344.6 863.3,320.0 868.6,326.1 874.0,340.5 879.3,335.4 884.6,364.1 890.0,322.0 895.3,323.1 900.6,349.7 906.0,361.0 911.3,333.3 916.6,356.9 922.0,368.2 927.3,354.8 932.7,350.7 938.0,366.1 943.3,353.8 948.7,338.4 954.0,362.0 959.3,358.9 964.7,357.9 970.0,367.1 975.3,370.2 980.7,362.0 986.0,380.5 991.4,370.2 996.7,371.3 1002.0,361.0 1007.4,384.6 1012.7,370.2 1018.0,368.2 1023.4,352.8 1028.7,404.1 1034.1,361.0 1039.4,382.5 1044.7,407.1 1050.1,385.6 1055.4,404.1 1060.7,396.9 1066.1,405.1 1071.4,432.8 1076.7,418.4 1082.1,391.8 1087.4,416.4 1092.8,390.7 1098.1,393.8 1103.4,386.6 1108.8,371.3 1114.1,372.3 1119.4,338.4 1124.8,341.5 1130.1,340.5 1135.4,330.2 1140.8,335.4 1146.1,352.8 1151.5,330.2 1156.8,345.6 1162.1,334.3 1167.5,342.5 1172.8,324.1 1178.1,350.7 1183.5,354.8 1188.8,352.8 1194.1,350.7 1199.5,317.9 1204.8,345.6 1210.2,351.8"/>
<polyline class="s" stroke="#7f7f7f" points="105.5,467.6 110.8,456.3 116.2,453.7 121.5,465.6 126.8,448.1 132.2,465.6 137.5,471.1 142.9,445.9 148.2,438.7 153.5,434.0 158.9,456.3 164.2,449.6 169.5,434.2 174.9,414.3 180.2,434.0 185.5,425.6 190.9,420.9 196.2,409.6 201.6,427.6 206.9,420.5 212.2,405.1 217.6,411.2 222.9,452.2 228.2,432.8 233.6,412.3 238.9,431.7 244.2,433.2 249.6,433.2 254.9,464.5 260.3,450.2 265.6,466.6 270.9,473.2 276.3,465.6 281.6,478.9 286.9,500.2 292.3,508.4 297.6,519.7 303.0,506.4 308.3,511.5 313.6,502.3 319.0,493.0 324.3,507.4 329.6,485.9 335.0,467.4 340.3,479.7 345.6,471.5 351.0,461.3 356.3,459.2 361.7,460.2 367.0,459.2 372.3,450.7 377.7,467.7 383.0,462.9 388.3,477.5 393.7,453.1 399.0,476.9 404.3,460.4 409.7,468.9 415.0,455.5 420.4,452.2 425.7,450.2 431.0,458.4 436.4,454.3 441.7,448.1 447.0,418.4 452.4,437.9 457.7,419.4 463.0,431.7 468.4,416.4 473.7,433.8 479.1,415.3 484.4,396.9 489.7,419.4 495.1,437.9 500.4,405.1 505.7,406.1 511.1,432.8 516.4,410.2 521.7,423.5 527.1,454.3 532.4,438.9 537.8,442.0 543.1,458.4 548.4,459.4 553.8,482.0 559.1,501.3 564.4,500.2 569.8,488.9 575.1,519.7 580.4,523.8 585.8,491.0 591.1,513.6 596.5,498.2 601.8,492.0 607.1,494.1 612.5,486.9 617.8,480.7 623.1,473.6 628.5,459.2 633.8,472.5 639.1,451.0 644.5,467.4 649.8,450.2 655.2,471.7 660.5,450.2 665.8,461.5 671.2,466.6 676.5,467.6 681.8,466.6 687.2,452.2 692.5,456.3 697.9,465.6 703.2,482.0 708.5,443.0 713.9,431.7 719.2,450.2 724.5,447.1 729.9,430.7 735.2,437.9 740.5,439.9 745.9,431.7 751.2,409.2 756.6,419.4 761.9,407.1 767.2,413.3 772.6,431.7 777.9,425.6 783.2,432.8 788.6,430.7 793.9,419.4 799.2,431.7 804.6,448.1 809.9,466.6 815.3,453.3 820.6,466.6 825.9,487.9 831.3,487.9 836.6,488.9 841.9,504.3 847.3,500.2 852.6,512.5 857.9,510.5 863.3,503.3 868.6,501.3 874.0,510.5 879.3,519.7 884.6,483.8 890.0,488.9 895.3,486.9 900.6,499.2 906.0,490.0 911.3,477.7 916.6,462.3 922.0,473.6 927.3,462.5 932.7,448.1 938.0,464.6 943.3,442.0 948.7,471.7 954.0,461.5 959.3,462.5 964.7,455.3 970.0,461.5 975.3,452.2 980.7,472.8 986.0,460.5 991.4,458.4 996.7,444.0 1002.0,434.8 1007.4,434.8 1012.7,434.8 1018.0,432.8 1023.4,407.1 1028.7,407.1 1034.1,421.5 1039.4,419.4 1044.7,427.6 1050.1,435.8 1055.4,427.6 1060.7,409.2 1066.1,427.6 1071.4,442.0 1076.7,444.0 1082.1,439.9 1087.4,437.9 1092.8,453.3 1098.1,469.5 1103.4,466.4 1108.8,490.0 1114.1,496.1 1119.4,510.5 1124.8,540.2 1130.1,521.8 1135.4,491.0 1140.8,506.4 1146.1,507.4 1151.5,509.5 1156.8,510.5 1162.1,494.1 1167.5,466.4 1172.8,475.6 1178.1,473.6 1183.5,446.9 1188.8,461.3 1194.1,465.4 1199.5,481.8 1204.8,452.0 1210.2,469.5"/>
<polyline class="s" stroke="#bcbd22" points="105.5,445.9 110.8,454.1 116.2,443.8 121.5,441.8 126.8,447.9 132.2,465.4 137.5,452.0 142.9,465.4 148.2,452.0 153.5,475.6 158.9,483.8 164.2,482.2 169.5,454.1 174.9,477.7 180.2,496.1 185.5,488.9 190.9,487.9 196.2,482.8 201.6,498.2 206.9,510.5 212.2,480.7 217.6,506.4 222.9,504.3 228.2,521.8 233.6,526.9 238.9,512.5 244.2,518.7 249.6,508.4 254.9,512.5 260.3,516.6 265.6,508.4 270.9,506.4 276.3,498.2 281.6,492.0 286.9,496.1 292.3,502.3 297.6,499.2 303.0,496.1 308.3,487.9 313.6,461.3 319.0,455.1 324.3,475.6 329.6,470.5 335.0,459.2 340.3,453.1 345.6,449.0 351.0,440.8 356.3,451.0 361.7,432.6 367.0,451.0 372.3,442.8 377.7,440.8 383.0,438.7 388.3,407.1 393.7,440.8 399.0,434.6 404.3,435.6 409.7,445.9 415.0,454.1 420.4,457.2 425.7,445.9 431.0,452.0 436.4,469.5 441.7,473.6 447.0,485.9 452.4,492.0 457.7,496.1 463.0,504.3 468.4,490.0 473.7,487.9 479.1,484.8 484.4,502.3 489.7,496.1 495.1,498.2 500.4,512.5 505.7,524.8 511.1,516.6 516.4,524.8 521.7,516.6 527.1,516.6 532.4,499.2 537.8,512.5 543.1,508.4 548.4,500.2 553.8,506.4 559.1,509.5 564.4,509.5 569.8,496.1 575.1,506.4 580.4,479.7 585.8,477.7 591.1,463.3 596.5,460.2 601.8,457.2 607.1,443.8 612.5,459.2 617.8,467.4 623.1,458.2 628.5,456.1 633.8,453.1 639.1,452.0 644.5,445.9 649.8,434.6 655.2,430.5 660.5,432.6 665.8,426.4 671.2,415.1 676.5,459.2 681.8,462.3 687.2,442.8 692.5,451.0 697.9,457.2 703.2,441.8 708.5,459.2 713.9,471.5 719.2,492.0 724.5,479.7 729.9,475.6 735.2,477.7 740.5,485.9 745.9,498.2 751.2,492.0 756.6,508.4 761.9,496.1 767.2,484.8 772.6,506.4 777.9,514.6 783.2,510.5 788.6,504.3 793.9,512.5 799.2,520.7 804.6,516.6 809.9,514.6 815.3,505.4 820.6,512.5 825.9,514.6 831.3,508.4 836.6,510.5 841.9,514.6 847.3,500.2 852.6,519.7 857.9,485.9 863.3,498.2 868.6,479.7 874.0,471.5 879.3,461.3 884.6,440.8 890.0,451.0 895.3,455.1 900.6,449.0 906.0,453.1 911.3,459.2 916.6,458.2 922.0,432.6 927.3,449.0 932.7,436.7 938.0,407.1 943.3,436.7 948.7,414.1 954.0,425.4 959.3,415.1 964.7,425.4 970.0,432.6 975.3,418.2 980.7,432.6 986.0,461.3 991.4,435.6 996.7,445.9 1002.0,453.1 1007.4,457.2 1012.7,465.4 1018.0,470.5 1023.4,465.4 1028.7,471.5 1034.1,478.7 1039.4,472.5 1044.7,456.1 1050.1,474.6 1055.4,481.8 1060.7,482.8 1066.1,488.9 1071.4,491.0 1076.7,514.6 1082.1,488.9 1087.4,502.3 1092.8,481.8 1098.1,494.1 1103.4,477.7 1108.8,475.6 1114.1,469.5 1119.4,458.2 1124.8,461.3 1130.1,457.2 1135.4,469.5 1140.8,439.7 1146.1,454.1 1151.5,451.0 1156.8,457.2 1162.1,438.7 1167.5,443.8 1172.8,442.8 1178.1,440.8 1183.5,430.5 1188.8,426.4 1194.1,425.4 1199.5,431.5 1204.8,399.7 1210.2,393.6"/>
<polyline class="s" stroke="#dbdb8d" points="105.5,482.8 110.8,504.3 116.2,500.2 121.5,501.3 126.8,508.4 132.2,511.5 137.5,510.5 142.9,505.4 148.2,508.4 153.5,533.0 158.9,523.8 164.2,525.9 169.5,509.5 174.9,523.8 180.2,513.6 185.5,533.0 190.9,530.0 196.2,535.1 201.6,547.4 206.9,542.3 212.2,521.8 217.6,538.2 222.9,549.4 228.2,533.0 233.6,544.3 238.9,518.7 244.2,524.8 249.6,553.5 254.9,505.4 260.3,516.6 265.6,514.6 270.9,510.5 276.3,498.2 281.6,497.1 286.9,491.0 292.3,480.7 297.6,478.7 303.0,471.5 308.3,456.1 313.6,446.9 319.0,443.8 324.3,456.1 329.6,471.5 335.0,493.0 340.3,464.3 345.6,494.1 351.0,460.2 356.3,477.7 361.7,494.1 367.0,471.5 372.3,493.0 377.7,516.6 383.0,488.9 388.3,500.2 393.7,518.7 399.0,491.0 404.3,500.2 409.7,500.2 415.0,508.4 420.4,520.7 425.7,528.9 431.0,517.7 436.4,516.6 441.7,526.9 447.0,525.9 452.4,515.6 457.7,543.3 463.0,524.8 468.4,516.6 473.7,547.4 479.1,531.0 484.4,541.2 489.7,551.5 495.1,541.2 500.4,535.1 505.7,538.2 511.1,536.1 516.4,533.0 521.7,539.2 527.1,524.8 532.4,512.5 537.8,514.6 543.1,501.3 548.4,507.4 553.8,510.5 559.1,476.6 564.4,491.0 569.8,482.8 575.1,479.7 580.4,477.7 585.8,459.2 591.1,463.3 596.5,463.3 601.8,460.2 607.1,460.2 612.5,465.4 617.8,478.7 623.1,459.2 628.5,463.3 633.8,498.2 639.1,498.2 644.5,491.0 649.8,498.2 655.2,499.2 660.5,497.1 665.8,516.6 671.2,498.2 676.5,501.3 681.8,508.4 687.2,512.5 692.5,516.6 697.9,512.5 703.2,507.4 708.5,539.2 713.9,522.8 719.2,528.9 724.5,514.6 729.9,512.5 735.2,526.9 740.5,531.0 745.9,533.0 751.2,538.2 756.6,534.1 761.9,536.1 767.2,533.0 772.6,514.6 777.9,541.2 783.2,531.0 788.6,553.5 793.9,541.2 799.2,508.4 804.6,524.8 809.9,512.5 815.3,515.6 820.6,516.6 825.9,495.1 831.3,510.5 836.6,476.6 841.9,487.9 847.3,484.8 852.6,465.4 857.9,471.5 863.3,465.4 868.6,475.6 874.0,488.9 879.3,469.5 884.6,461.3 890.0,454.1 895.3,479.7 900.6,475.6 906.0,482.8 911.3,471.5 916.6,469.5 922.0,492.0 927.3,510.5 932.7,492.0 938.0,471.5 943.3,487.9 948.7,475.6 954.0,486.9 959.3,477.7 964.7,493.0 970.0,486.9 975.3,484.8 980.7,474.6 986.0,494.1 991.4,495.1 996.7,496.1 1002.0,498.2 1007.4,507.4 1012.7,520.7 1018.0,486.9 1023.4,500.2 1028.7,506.4 1034.1,501.3 1039.4,487.9 1044.7,512.5 1050.1,516.6 1055.4,519.7 1060.7,503.3 1066.1,528.9 1071.4,516.6 1076.7,523.8 1082.1,496.1 1087.4,493.0 1092.8,486.9 1098.1,499.2 1103.4,485.9 1108.8,477.7 1114.1,469.5 1119.4,451.0 1124.8,465.4 1130.1,445.9 1135.4,438.7 1140.8,430.5 1146.1,421.3 1151.5,418.2 1156.8,429.5 1162.1,424.4 1167.5,450.0 1172.8,445.9 1178.1,456.1 1183.5,454.1 1188.8,466.4 1194.1,469.5 1199.5,492.0 1204.8,481.8 1210.2,475.6"/>
<polyline class="s" stroke="#17becf" points="105.5,442.8 110.8,427.4 116.2,431.5 121.5,430.1 126.8,435.6 132.2,445.9 137.5,463.7 142.9,454.1 148.2,459.2 153.5,493.0 158.9,468.4 164.2,476.6 169.5,476.2 174.9,482.8 180.2,487.7 185.5,485.9 190.9,496.1 196.2,492.0 201.6,508.4 206.9,503.3 212.2,493.0 217.6,521.8 222.9,498.2 228.2,528.9 233.6,512.5 238.9,503.3 244.2,524.8 249.6,492.0 254.9,518.7 260.3,535.1 265.6,502.3 270.9,500.2 276.3,492.2 281.6,491.0 286.9,473.6 292.3,495.1 297.6,492.0 303.0,473.6 308.3,466.4 313.6,484.8 319.0,471.5 324.3,464.3 329.6,461.3 335.0,451.0 340.3,456.5 345.6,460.2 351.0,428.5 356.3,466.4 361.7,413.1 367.0,439.7 372.3,443.8 377.7,450.0 383.0,446.9 388.3,431.5 393.7,443.8 399.0,458.2 404.3,456.1 409.7,453.1 415.0,446.9 420.4,437.7 425.7,462.3 431.0,467.4 436.4,475.6 441.7,485.9 447.0,497.1 452.4,502.3 457.7,490.0 463.0,482.8 468.4,493.0 473.7,488.9 479.1,519.7 484.4,532.0 489.7,508.4 495.1,524.8 500.4,528.9 505.7,519.7 511.1,503.3 516.4,530.0 521.7,517.7 527.1,515.6 532.4,514.6 537.8,524.8 543.1,517.7 548.4,515.6 553.8,498.2 559.1,491.0 564.4,505.4 569.8,492.0 575.1,486.9 580.4,459.2 585.8,487.9 591.1,469.5 596.5,453.1 601.8,466.4 607.1,461.3 612.5,458.2 617.8,450.0 623.1,444.9 628.5,454.1 633.8,442.8 639.1,437.7 644.5,450.0 649.8,443.8 655.2,453.1 660.5,447.9 665.8,435.6 671.2,440.8 676.5,461.3 681.8,455.1 687.2,443.8 692.5,450.0 697.9,446.9 703.2,472.5 708.5,470.5 713.9,473.6 719.2,478.7 724.5,488.9 729.9,493.0 735.2,493.0 740.5,483.8 745.9,504.3 751.2,475.6 756.6,504.3 761.9,517.7 767.2,522.8 772.6,527.9 777.9,521.8 783.2,511.5 788.6,509.5 793.9,504.3 799.2,517.7 804.6,539.2 809.9,512.5 815.3,511.5 820.6,510.5 825.9,508.4 831.3,505.4 836.6,512.5 841.9,504.3 847.3,503.3 852.6,477.7 857.9,458.2 863.3,463.3 868.6,473.6 874.0,470.5 879.3,456.1 884.6,447.9 890.0,445.9 895.3,443.8 900.6,459.2 906.0,454.1 911.3,442.8 916.6,438.7 922.0,436.7 927.3,447.9 932.7,440.8 938.0,422.3 943.3,429.5 948.7,422.3 954.0,427.4 959.3,419.2 964.7,415.1 970.0,434.6 975.3,449.0 980.7,435.6 986.0,419.2 991.4,461.3 996.7,447.9 1002.0,463.3 1007.4,449.0 1012.7,475.6 1018.0,484.8 1023.4,463.3 1028.7,471.5 1034.1,488.9 1039.4,500.2 1044.7,462.3 1050.1,488.9 1055.4,491.0 1060.7,498.2 1066.1,514.6 1071.4,488.9 1076.7,493.0 1082.1,500.2 1087.4,484.8 1092.8,457.2 1098.1,478.7 1103.4,503.3 1108.8,481.8 1114.1,485.9 1119.4,476.6 1124.8,474.6 1130.1,456.1 1135.4,461.3 1140.8,456.1 1146.1,453.1 1151.5,464.3 1156.8,433.6 1162.1,432.6 1167.5,435.6 1172.8,437.7 1178.1,441.8 1183.5,413.1 1188.8,436.7 1194.1,430.5 1199.5,406.9 1204.8,430.5 1210.2,393.6"/>
<polyline class="s" stroke="#9edae5" points="105.5,516.6 110.8,538.2 116.2,521.8 121.5,536.1 126.8,531.0 132.2,535.3 137.5,536.1 142.9,535.1 148.2,532.0 153.5,545.3 158.9,523.8 164.2,535.1 169.5,554.6 174.9,541.2 180.2,574.0 185.5,553.5 190.9,549.4 196.2,567.9 201.6,592.5 206.9,558.7 212.2,580.2 217.6,585.3 222.9,581.2 228.2,585.3 233.6,598.7 238.9,590.5 244.2,587.4 249.6,588.4 254.9,586.3 260.3,576.1 265.6,580.2 270.9,584.3 276.3,599.7 281.6,578.1 286.9,557.6 292.3,574.0 297.6,589.4 303.0,571.0 308.3,581.2 313.6,567.9 319.0,551.5 324.3,533.0 329.6,561.7 335.0,553.5 340.3,546.4 345.6,540.2 351.0,543.3 356.3,539.2 361.7,521.8 367.0,539.2 372.3,554.6 377.7,530.0 383.0,520.7 388.3,534.1 393.7,544.3 399.0,547.4 404.3,505.4 409.7,535.1 415.0,541.2 420.4,526.9 425.7,513.6 431.0,545.3 436.4,541.2 441.7,561.7 447.0,546.4 452.4,545.3 457.7,552.5 463.0,567.9 468.4,547.4 473.7,559.7 479.1,571.0 484.4,566.9 489.7,561.7 495.1,574.0 500.4,582.2 505.7,594.6 511.1,583.3 516.4,574.0 521.7,579.2 527.1,584.3 532.4,572.0 537.8,560.7 543.1,602.8 548.4,587.4 553.8,583.3 559.1,563.8 564.4,571.0 569.8,574.0 575.1,566.9 580.4,568.9 585.8,539.2 591.1,563.8 596.5,539.2 601.8,553.5 607.1,546.4 612.5,534.1 617.8,537.1 623.1,543.3 628.5,531.0 633.8,517.7 639.1,520.7 644.5,518.7 649.8,503.3 655.2,511.5 660.5,525.9 665.8,511.5 671.2,535.1 676.5,523.8 681.8,533.0 687.2,534.1 692.5,537.1 697.9,538.2 703.2,551.5 708.5,547.4 713.9,554.6 719.2,550.5 724.5,552.5 729.9,541.2 735.2,541.2 740.5,562.8 745.9,560.7 751.2,562.8 756.6,559.7 761.9,557.6 767.2,582.2 772.6,586.3 777.9,589.4 783.2,582.2 788.6,567.9 793.9,586.3 799.2,591.5 804.6,601.7 809.9,599.7 815.3,580.2 820.6,581.2 825.9,588.4 831.3,592.5 836.6,582.2 841.9,584.3 847.3,555.6 852.6,557.6 857.9,539.2 863.3,559.7 868.6,562.8 874.0,564.8 879.3,562.8 884.6,539.2 890.0,542.3 895.3,536.1 900.6,544.3 906.0,537.1 911.3,510.5 916.6,524.8 922.0,541.2 927.3,539.2 932.7,524.8 938.0,487.9 943.3,510.5 948.7,486.9 954.0,493.0 959.3,501.3 964.7,518.7 970.0,496.1 975.3,506.4 980.7,514.6 986.0,520.7 991.4,509.5 996.7,513.6 1002.0,531.0 1007.4,521.8 1012.7,511.5 1018.0,517.7 1023.4,553.5 1028.7,549.4 1034.1,544.3 1039.4,546.4 1044.7,551.5 1050.1,530.0 1055.4,553.5 1060.7,547.4 1066.1,533.0 1071.4,562.8 1076.7,542.3 1082.1,568.9 1087.4,581.2 1092.8,555.6 1098.1,561.7 1103.4,556.6 1108.8,551.5 1114.1,545.3 1119.4,545.3 1124.8,556.6 1130.1,538.2 1135.4,568.9 1140.8,523.8 1146.1,526.9 1151.5,557.6 1156.8,524.8 1162.1,536.1 1167.5,520.7 1172.8,513.6 1178.1,524.8 1183.5,520.7 1188.8,512.5 1194.1,523.8 1199.5,498.2 1204.8,520.7 1210.2,492.0"/>
<line x1="938" x2="938" y1="822" y2="138" stroke="#000" stroke-width="4.17" stroke-dasharray="15.42 6.67"/>
</g>
<text x="657.5" y="131" font-size="47.1" text-anchor="middle" textLength="632.5" lengthAdjust="spacingAndGlyphs">Observed data from all geos</text>
<text x="95.3" y="806.9" font-size="42" text-anchor="end" textLength="23.5" lengthAdjust="spacingAndGlyphs">0</text>
<text x="95.3" y="690.9" font-size="42" text-anchor="end" textLength="23.5" lengthAdjust="spacingAndGlyphs">1</text>
<text x="95.3" y="574.9" font-size="42" text-anchor="end" textLength="23.5" lengthAdjust="spacingAndGlyphs">2</text>
<text x="95.3" y="458.9" font-size="42" text-anchor="end" textLength="23.5" lengthAdjust="spacingAndGlyphs">3</text>
<text x="95.3" y="342.9" font-size="42" text-anchor="end" textLength="23.5" lengthAdjust="spacingAndGlyphs">4</text>
<text x="95.3" y="226.9" font-size="42" text-anchor="end" textLength="23.5" lengthAdjust="spacingAndGlyphs">5</text>
<text x="104.8" y="862.2" font-size="41.3" text-anchor="middle" textLength="60.6" lengthAdjust="spacingAndGlyphs">Jan</text>
<text x="105.8" y="907" font-size="41.3" text-anchor="middle" textLength="100" lengthAdjust="spacingAndGlyphs">2019</text>
<text x="381.9" y="862.2" font-size="41.3" text-anchor="middle" textLength="60.6" lengthAdjust="spacingAndGlyphs">Jan</text>
<text x="382.9" y="907" font-size="41.3" text-anchor="middle" textLength="100" lengthAdjust="spacingAndGlyphs">2020</text>
<text x="659" y="862.2" font-size="41.3" text-anchor="middle" textLength="60.6" lengthAdjust="spacingAndGlyphs">Jan</text>
<text x="660" y="907" font-size="41.3" text-anchor="middle" textLength="100" lengthAdjust="spacingAndGlyphs">2021</text>
<text x="936.5" y="862.2" font-size="41.3" text-anchor="middle" textLength="60.6" lengthAdjust="spacingAndGlyphs">Jan</text>
<text x="937.5" y="907" font-size="41.3" text-anchor="middle" textLength="100" lengthAdjust="spacingAndGlyphs">2022</text>
<text x="243" y="862.2" font-size="41.3" text-anchor="middle" textLength="48.3" lengthAdjust="spacingAndGlyphs">Jul</text>
<text x="519.5" y="862.2" font-size="41.3" text-anchor="middle" textLength="48.3" lengthAdjust="spacingAndGlyphs">Jul</text>
<text x="797.8" y="862.2" font-size="41.3" text-anchor="middle" textLength="48.3" lengthAdjust="spacingAndGlyphs">Jul</text>
<text x="1075" y="862.2" font-size="41.3" text-anchor="middle" textLength="48.3" lengthAdjust="spacingAndGlyphs">Jul</text>
<text x="657.5" y="957.4" font-size="44.2" text-anchor="middle" textLength="94.2" lengthAdjust="spacingAndGlyphs">time</text>
<text transform="translate(50.5,486) rotate(-90)" font-size="44.2" text-anchor="middle" textLength="541.5" lengthAdjust="spacingAndGlyphs">Sales volume (thousands)</text>
<line x1="1245.2" x2="1322.8" y1="51.0" y2="51.0" stroke="#1f77b4" stroke-width="4.17" stroke-linecap="round"/>
<text x="1354.4" y="65.8" font-size="41.3" text-anchor="start" textLength="46.5" lengthAdjust="spacingAndGlyphs">u1</text>
<line x1="1245.2" x2="1322.8" y1="108.5" y2="108.5" stroke="#aec7e8" stroke-width="4.17" stroke-linecap="round"/>
<text x="1354.4" y="123.2" font-size="41.3" text-anchor="start" textLength="46.5" lengthAdjust="spacingAndGlyphs">u2</text>
<line x1="1245.2" x2="1322.8" y1="165.9" y2="165.9" stroke="#ff7f0e" stroke-width="4.17" stroke-linecap="round"/>
<text x="1354.4" y="180.7" font-size="41.3" text-anchor="start" textLength="46.5" lengthAdjust="spacingAndGlyphs">u3</text>
<line x1="1245.2" x2="1322.8" y1="223.4" y2="223.4" stroke="#2ca02c" stroke-width="4.17" stroke-linecap="round"/>
<text x="1354.4" y="238.1" font-size="41.3" text-anchor="start" textLength="46.5" lengthAdjust="spacingAndGlyphs">u4</text>
<line x1="1245.2" x2="1322.8" y1="280.9" y2="280.9" stroke="#98df8a" stroke-width="4.17" stroke-linecap="round"/>
<text x="1354.4" y="295.5" font-size="41.3" text-anchor="start" textLength="46.5" lengthAdjust="spacingAndGlyphs">u5</text>
<line x1="1245.2" x2="1322.8" y1="338.4" y2="338.4" stroke="#d62728" stroke-width="4.17" stroke-linecap="round"/>
<text x="1354.4" y="352.9" font-size="41.3" text-anchor="start" textLength="46.5" lengthAdjust="spacingAndGlyphs">u6</text>
<line x1="1245.2" x2="1322.8" y1="395.8" y2="395.8" stroke="#9467bd" stroke-width="4.17" stroke-linecap="round"/>
<text x="1354.4" y="410.4" font-size="41.3" text-anchor="start" textLength="46.5" lengthAdjust="spacingAndGlyphs">u7</text>
<line x1="1245.2" x2="1322.8" y1="453.3" y2="453.3" stroke="#c5b0d5" stroke-width="4.17" stroke-linecap="round"/>
<text x="1354.4" y="467.8" font-size="41.3" text-anchor="start" textLength="46.5" lengthAdjust="spacingAndGlyphs">u8</text>
<line x1="1245.2" x2="1322.8" y1="510.8" y2="510.8" stroke="#8c564b" stroke-width="4.17" stroke-linecap="round"/>
<text x="1354.4" y="525.2" font-size="41.3" text-anchor="start" textLength="46.5" lengthAdjust="spacingAndGlyphs">u9</text>
<line x1="1245.2" x2="1322.8" y1="568.2" y2="568.2" stroke="#e377c2" stroke-width="4.17" stroke-linecap="round"/>
<text x="1354.4" y="582.7" font-size="41.3" text-anchor="start" textLength="72.5" lengthAdjust="spacingAndGlyphs">u10</text>
<line x1="1245.2" x2="1322.8" y1="625.7" y2="625.7" stroke="#f7b6d2" stroke-width="4.17" stroke-linecap="round"/>
<text x="1354.4" y="640.1" font-size="41.3" text-anchor="start" textLength="72.5" lengthAdjust="spacingAndGlyphs">u11</text>
<line x1="1245.2" x2="1322.8" y1="683.2" y2="683.2" stroke="#7f7f7f" stroke-width="4.17" stroke-linecap="round"/>
<text x="1354.4" y="697.5" font-size="41.3" text-anchor="start" textLength="72.5" lengthAdjust="spacingAndGlyphs">u12</text>
<line x1="1245.2" x2="1322.8" y1="740.6" y2="740.6" stroke="#bcbd22" stroke-width="4.17" stroke-linecap="round"/>
<text x="1354.3" y="755.0" font-size="41.3" text-anchor="start" textLength="39.5" lengthAdjust="spacingAndGlyphs">t1</text>
<line x1="1245.2" x2="1322.8" y1="798.1" y2="798.1" stroke="#dbdb8d" stroke-width="4.17" stroke-linecap="round"/>
<text x="1354.3" y="812.4" font-size="41.3" text-anchor="start" textLength="39.5" lengthAdjust="spacingAndGlyphs">t2</text>
<line x1="1245.2" x2="1322.8" y1="855.6" y2="855.6" stroke="#17becf" stroke-width="4.17" stroke-linecap="round"/>
<text x="1354.3" y="869.8" font-size="41.3" text-anchor="start" textLength="39.5" lengthAdjust="spacingAndGlyphs">t3</text>
<line x1="1245.2" x2="1322.8" y1="913.0" y2="913.0" stroke="#9edae5" stroke-width="4.17" stroke-linecap="round"/>
<text x="1354.3" y="927.2" font-size="41.3" text-anchor="start" textLength="39.5" lengthAdjust="spacingAndGlyphs">t4</text>
</svg></body></html>
